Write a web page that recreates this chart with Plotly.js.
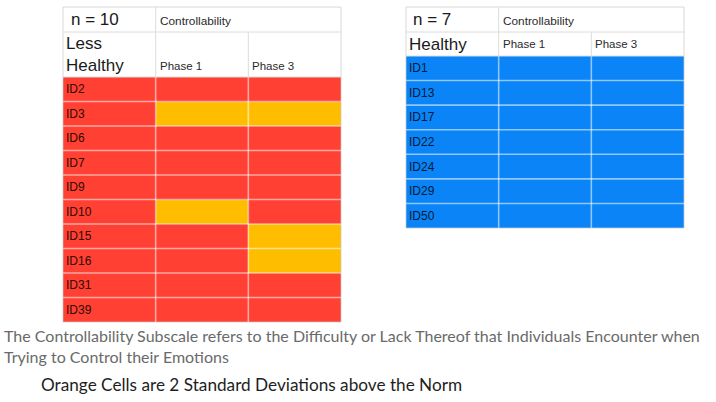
<!DOCTYPE html>
<html>
<head>
<meta charset="utf-8">
<script src="https://cdn.plot.ly/plotly-3.0.1.min.js"></script>
<style>html,body{margin:0;padding:0;background:#fff;}#chart{width:716px;height:402px;}</style>
</head>
<body>
<div id="chart"></div>
<script>
// ---- data ----
const scaleLabel = 'Controllability';
const phaseLabels = ['Phase 1', 'Phase 3'];

const lessLabel = 'Less<br>Healthy';
const lessN = 'n = 10';
const lessIds = ['ID2','ID3','ID6','ID7','ID9','ID10','ID15','ID16','ID31','ID39'];
const lessPhase1Above = [0,1,0,0,0,1,0,0,0,0];
const lessPhase3Above = [0,1,0,0,0,0,1,1,0,0];

const healthyLabel = 'Healthy';
const healthyN = 'n = 7';
const healthyIds = ['ID1','ID13','ID17','ID22','ID24','ID29','ID50'];
const healthyPhase1Above = [0,0,0,0,0,0,0];
const healthyPhase3Above = [0,0,0,0,0,0,0];

const footNote = 'The Controllability Subscale refers to the Difficulty or Lack Thereof that Individuals Encounter when<br>Trying to Control their Emotions';
const legendNote = 'Orange Cells are 2 Standard Deviations above the Norm';

// ---- style / layout ----
const W = 716, H = 402;
const RED = '#FF4033', ORANGE = '#FFBD00', BLUE = '#0A84F6';
const colorscale = [[0,RED],[0.3333,RED],[0.3333,ORANGE],[0.6667,ORANGE],[0.6667,BLUE],[1,BLUE]];
const TFONT = 'Liberation Sans, Arial, sans-serif';

const traces = [], shapes = [], annotations = [];
const layout = {
  width: W, height: H, margin: {l:0,r:0,t:0,b:0},
  paper_bgcolor: '#ffffff', plot_bgcolor: '#ffffff', showlegend: false
};

function addTable(cfg) {
  const s = cfg.suffix;
  const n = cfg.ids.length;
  const [x0, y0, x1, y1] = cfg.box;
  const colPx = (x1 - x0) / 3;
  const rowPx = (y1 - y0 - cfg.h1 - cfg.h2) / n;
  const h1 = cfg.h1 / rowPx, h2 = cfg.h2 / rowPx;
  const yTop = -0.5 - h1 - h2, yMid = -0.5 - h2;

  layout['xaxis' + s] = {
    domain: [(x0 - 1) / W, (x1 + 1) / W],
    range: [-0.5 - 1 / colPx, 2.5 + 1 / colPx],
    visible: false, fixedrange: true, anchor: 'y' + s
  };
  layout['yaxis' + s] = {
    domain: [1 - (y1 + 1) / H, 1 - (y0 - 1) / H],
    range: [n - 0.5 + 1 / rowPx, yTop - 1 / rowPx],
    visible: false, fixedrange: true, anchor: 'x' + s
  };

  const z = cfg.ids.map((id, i) => [
    cfg.base,
    cfg.p1[i] ? 1 : cfg.base,
    cfg.p3[i] ? 1 : cfg.base
  ]);
  traces.push({
    type: 'heatmap', x: [0, 1, 2], y: cfg.ids.map((_, i) => i), z: z,
    zmin: 0, zmax: 2, colorscale: colorscale, showscale: false,
    hoverinfo: 'skip', xaxis: 'x' + s, yaxis: 'y' + s
  });

  const xr = 'x' + s, yr = 'y' + s;
  const grid = {color: 'rgba(255,255,255,0.55)', width: 1.6};
  [0.5, 1.5].forEach(xv => shapes.push({type:'line', xref:xr, yref:yr, x0:xv, x1:xv, y0:-0.5, y1:n-0.5, line:grid}));
  for (let k = 0; k < n - 1; k++) {
    shapes.push({type:'line', xref:xr, yref:yr, x0:-0.5, x1:2.5, y0:k+0.5, y1:k+0.5, line:grid});
  }
  shapes.push({type:'rect', xref:xr, yref:yr, x0:-0.5, x1:2.5, y0:yTop, y1:n-0.5, line:{color:'rgba(200,200,200,0.7)', width:1}});
  const hl = {color:'#dcdcdc', width:1};
  shapes.push({type:'line', xref:xr, yref:yr, x0:-0.5, x1:2.5, y0:yMid, y1:yMid, line:hl});
  shapes.push({type:'line', xref:xr, yref:yr, x0:-0.5, x1:2.5, y0:-0.5, y1:-0.5, line:hl});
  shapes.push({type:'line', xref:xr, yref:yr, x0:0.5, x1:0.5, y0:yTop, y1:-0.5, line:hl});
  shapes.push({type:'line', xref:xr, yref:yr, x0:1.5, x1:1.5, y0:yMid, y1:-0.5, line:hl});

  annotations.push({xref:xr, yref:yr, x:-0.5, y:yTop + h1/2, xanchor:'left', yanchor:'middle',
    xshift: cfg.nShift, yshift: 0, text: cfg.nLabel, showarrow:false, font:{family:TFONT, size:17, color:'#1a1a1a'}});
  annotations.push({xref:xr, yref:yr, x:0.5, y:yTop + h1/2, xanchor:'left', yanchor:'middle',
    xshift: 2, yshift: -1, text: scaleLabel, showarrow:false, font:{family:TFONT, size:11.8, color:'#2a2a2a'}});
  annotations.push({xref:xr, yref:yr, x:-0.5, y:yMid + h2/2, xanchor:'left', yanchor:'middle', align:'left',
    xshift: 1, yshift: 0, text: cfg.label, showarrow:false, font:{family:TFONT, size:17, color:'#1a1a1a'}});
  phaseLabels.forEach((p, j) => {
    annotations.push({xref:xr, yref:yr, x:0.5 + j, y: cfg.phaseBottom ? -0.5 : yMid + h2/2,
      xanchor:'left', yanchor:'middle', xshift: 2, yshift: cfg.phaseBottom ? 11 : 0,
      text: p, showarrow:false, font:{family:TFONT, size:11.5, color:'#2a2a2a'}});
  });
  cfg.ids.forEach((id, i) => {
    annotations.push({xref:xr, yref:yr, x:-0.5, y:i, xanchor:'left', yanchor:'middle', xshift:1,
      text:id, showarrow:false, font:{family:TFONT, size:12, color:cfg.idColor}});
  });
}

addTable({suffix:'', ids:lessIds, p1:lessPhase1Above, p3:lessPhase3Above, base:0,
  box:[63,7,341,322], h1:25, h2:45, nLabel:lessN, label:lessLabel, nShift:6, phaseBottom:true, idColor:'#2e0904'});
addTable({suffix:'2', ids:healthyIds, p1:healthyPhase1Above, p3:healthyPhase3Above, base:2,
  box:[406,7,684,228], h1:25, h2:24, nLabel:healthyN, label:healthyLabel, nShift:5, phaseBottom:false, idColor:'#061a35'});

annotations.push({xref:'paper', yref:'paper', x:2/W, y:1 - 345.5/H, xanchor:'left', yanchor:'middle', align:'left',
  text: footNote, showarrow:false, font:{family:'Lato, sans-serif', size:16, color:'#6a6a6a'}});
annotations.push({xref:'paper', yref:'paper', x:39/W, y:1 - 384/H, xanchor:'left', yanchor:'middle',
  text: legendNote, showarrow:false, font:{family:'Lato, sans-serif', size:17.2, color:'#1e1e1e'}});

layout.shapes = shapes;
layout.annotations = annotations;
Plotly.newPlot('chart', traces, layout, {displayModeBar:false, staticPlot:true});
</script>
</body>
</html>
